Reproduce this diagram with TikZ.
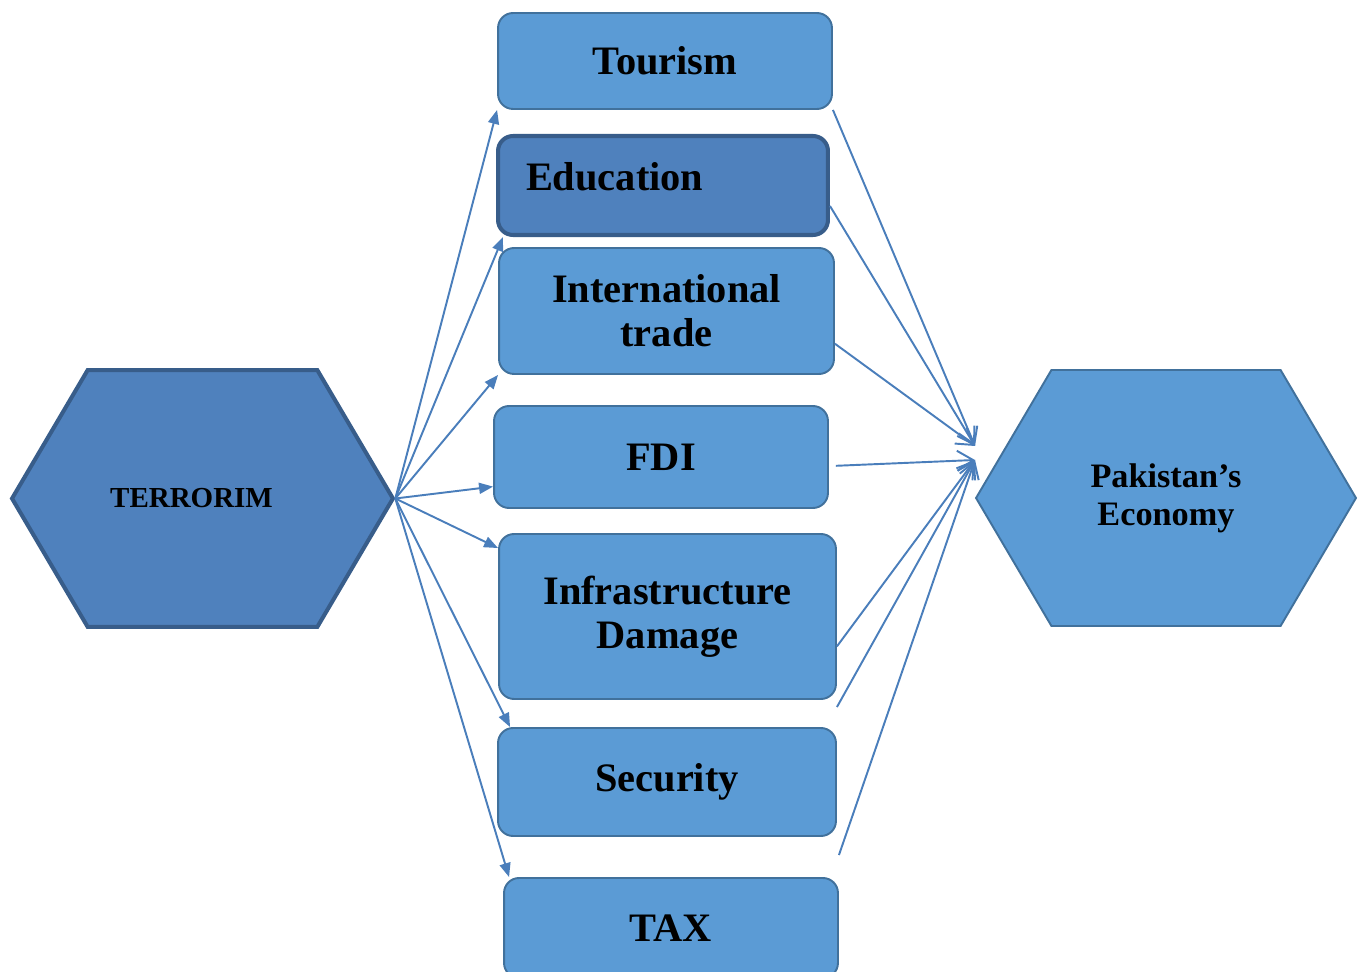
\documentclass[tikz,border=0pt]{standalone}
\usepackage{fontspec}
\setmainfont{Liberation Serif}
\usetikzlibrary{positioning,shapes.symbols,arrows.meta}
\definecolor{lightfill}{RGB}{91,155,213}
\definecolor{lightline}{RGB}{65,113,156}
\definecolor{darkfill}{RGB}{79,129,189}
\definecolor{darkline}{RGB}{56,93,138}
\definecolor{arrowcol}{RGB}{74,126,187}
\tikzstyle{block} = [draw=lightline, fill=lightfill, line width=1.1pt, rounded corners=0.3cm, inner sep=0pt, align=center, font=\bfseries\fontsize{23}{25}\selectfont]
\tikzstyle{darkblock} = [block, draw=darkline, fill=darkfill, line width=2.3pt]
\tikzstyle{hexa} = [shape=signal, signal to=east and west, signal pointer angle=119, draw=lightline, fill=lightfill, line width=1.1pt, inner sep=0pt, align=center, font=\bfseries\fontsize{16.5}{21.5}\selectfont]
\tikzstyle{link} = [draw=arrowcol, line width=1.1pt, -{Triangle[length=0.28cm,width=0.22cm]}]
\tikzstyle{feed} = [draw=arrowcol, line width=1.1pt, -{Straight Barb[length=0.32cm,width=0.4cm]}]

\begin{document}
\begin{tikzpicture}[x=0.02cm, y=-0.02cm]
        \useasboundingbox (0,0) rectangle (1362,972);
        %Hexagons
        \node [hexa, draw=darkline, fill=darkfill, line width=2.3pt, minimum width=7.62cm, minimum height=5.14cm] (terrorim) at (202.5,498.5) {TERRORIM\hspace{0.44cm}};
        \node [hexa, minimum width=7.6cm, minimum height=5.12cm, font=\bfseries\fontsize{19.5}{21.5}\selectfont] (economy) at (1166,498) {Pakistan’s\\Economy};
        %Blocks
        \node [block, minimum width=6.68cm, minimum height=1.92cm] (tourism) at (665,61) {Tourism};
        \node [darkblock, minimum width=6.6cm, minimum height=1.98cm, inner xsep=0.56cm, text width=5.48cm, align=left] (education) at (663,185.5) {\raisebox{0.38cm}{Education}};
        \node [block, minimum width=6.7cm, minimum height=2.52cm] (trade) at (666.5,311) {International\\trade};
        \node [block, minimum width=6.68cm, minimum height=2.04cm] (fdi) at (661,457) {FDI};
        \node [block, minimum width=6.74cm, minimum height=3.3cm] (damage) at (667.5,616.5) {Infrastructure\\Damage};
        \node [block, minimum width=6.76cm, minimum height=2.16cm] (security) at (667,782) {Security};
        \node [block, minimum width=6.68cm, minimum height=2cm] (tax) at (671,928) {TAX};
        \coordinate (hubA) at (975,446);
        \coordinate (hubB) at (975,460);
        %Arrows
        \draw[link] (terrorim.east) -- (tourism.south west);
        \draw[link] (terrorim.east) -- ([xshift=0.14cm]education.south west);
        \draw[link] (terrorim.east) -- (trade.south west);
        \draw[link] (terrorim.east) -- (fdi.190);
        \draw[link] (terrorim.east) -- (damage.158);
        \draw[link] (terrorim.east) -- ([xshift=0.26cm]security.north west);
        \draw[link] (terrorim.east) -- ([xshift=0.12cm]tax.north west);
        \draw[feed] (tourism.south east) -- (hubA);
        \draw[feed] (education.-7) -- (hubA);
        \draw[feed] (trade.-11) -- (hubA);
        \draw[feed] ([xshift=0.14cm]fdi.-3) -- (hubB);
        \draw[feed] (damage.-10) -- (hubB);
        \draw[feed] ([yshift=0.4cm]security.north east) -- (hubB);
        \draw[feed] ([yshift=0.44cm]tax.north east) -- (hubB);
    \end{tikzpicture}
\end{document}
